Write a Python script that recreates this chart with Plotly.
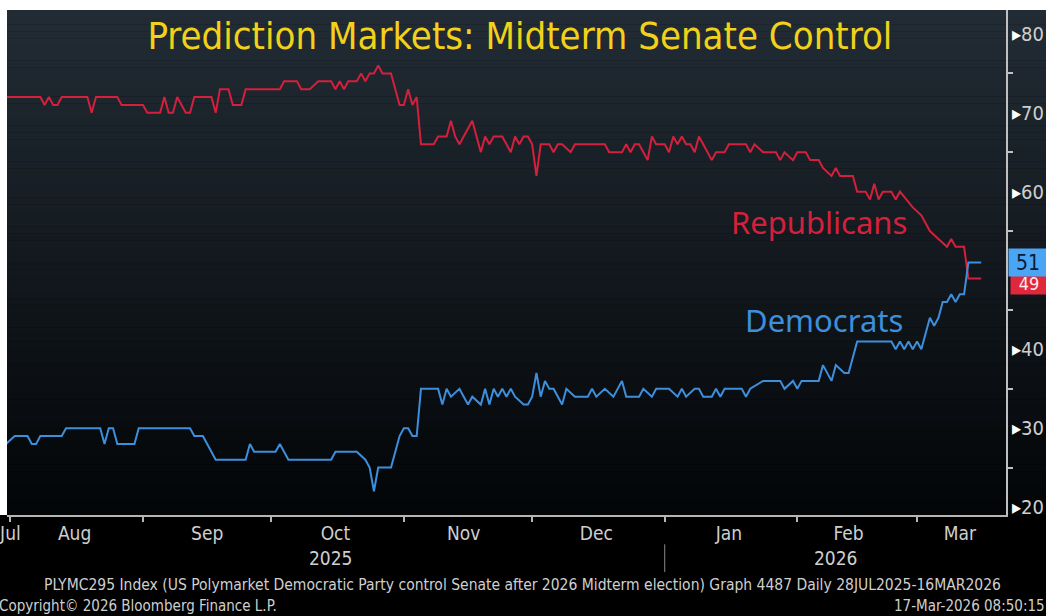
import pandas as pd
import plotly.graph_objects as go

# ---------------- data (days counted from 28 Jul 2025, values in %) ----------------
start_date = pd.Timestamp("2025-07-28")

rep_day = [0, 11, 12, 13, 14, 15, 16, 22, 23, 24, 29, 30, 35, 36, 39, 40, 41, 42, 43, 45, 46, 47, 51, 52, 53, 55,
           56, 58, 59, 67, 68, 71, 72, 74, 76, 79, 80, 81, 82, 83, 85, 86, 87, 88, 89, 90, 91, 93, 94, 95, 96, 97,
           98, 99, 100, 103, 104, 106, 107, 108, 109, 110, 111, 112, 113, 114, 115, 116, 117, 119, 120, 121, 122,
           123, 124, 125, 126, 127, 128, 130, 131, 132, 133, 135, 136, 143, 144, 147, 148, 149, 150, 151, 153, 154,
           155, 157, 158, 159, 160, 161, 162, 163, 164, 165, 166, 168, 169, 171, 172, 176, 177, 178, 180, 183, 184,
           185, 187, 188, 190, 191, 193, 194, 196, 197, 198, 201, 202, 204, 205, 206, 207, 208, 210, 211, 212, 215,
           217, 219, 221, 223, 224, 225, 227, 228, 231]
rep_val = [72, 72, 71, 72, 71, 71, 72, 72, 70, 72, 72, 71, 71, 70, 70, 72, 70, 70, 72, 70, 70, 72, 72, 70, 73, 73,
           71, 71, 73, 73, 74, 74, 73, 73, 74, 74, 73, 74, 73, 74, 74, 75, 74, 75, 75, 76, 75, 75, 73, 71, 71, 73,
           71, 72, 66, 66, 67, 67, 69, 67, 66, 67, 68, 69, 67, 65, 67, 66, 67, 67, 66, 65, 67,
           66, 67, 67, 66, 62, 66, 66, 65, 66, 66, 65, 66, 66, 65, 65, 66, 65, 66, 66, 64, 67,
           66, 66, 65, 67, 66, 67, 66, 66, 65, 67, 66, 64, 65, 65, 66, 66, 65, 66, 65, 65, 64,
           65, 64, 65, 65, 64, 64, 63, 62, 63, 62, 62, 60, 60, 59, 61, 59, 60, 60, 59, 60, 58,
           57, 55, 54, 53, 54, 53, 53, 49, 49]

dem_day = [0, 3, 5, 8, 9, 10, 11, 16, 17, 25, 26, 27, 28, 29, 33, 34, 46, 47, 49, 50, 51, 52, 59, 60, 61, 66, 67,
           69, 79, 80, 85, 87, 88, 89, 90, 93, 94, 95, 96, 97, 98, 99, 100, 104, 105, 106, 107, 109, 110, 111, 112,
           114, 115, 116, 117, 118, 119, 120, 121, 122, 124, 125, 126, 127, 128, 129, 130, 131, 133, 134, 136, 139,
           140, 141, 143, 145, 147, 148, 151, 152, 154, 155, 158, 160, 161, 162, 164, 165, 166, 168, 169, 170, 171,
           173, 175, 176, 177, 180, 184, 185, 187, 188, 189, 193, 194, 196, 197, 199, 200, 202, 210, 211, 212, 213,
           214, 215, 216, 217, 218, 219, 220, 221, 222, 223, 224, 225, 226, 227, 228, 231]
dem_val = [28, 28, 29, 29, 28, 28, 29, 29, 30, 30, 28, 30, 30, 28, 28, 30, 30, 29, 29, 28, 27, 26, 26, 28, 27, 27, 28,
           26, 26, 27, 27, 26, 25, 22, 25, 25, 27, 29, 30, 30, 29, 29, 35, 35, 33, 35, 34, 35, 34, 33, 34,
           33, 35, 33, 35, 34, 35, 34, 35, 34, 33, 33, 34, 37, 34, 36, 35, 35, 33, 35, 34, 34,
           35, 34, 35, 34, 36, 34, 34, 35, 34, 35, 35, 34, 35, 34, 35, 35, 34, 34, 35, 34, 35,
           35, 35, 34, 35, 36, 36, 35, 36, 35, 36, 36, 38, 36, 38, 37, 37, 41, 41, 40, 41, 40,
           41, 40, 41, 40, 42, 44, 43, 44, 46, 46, 47, 46, 47, 47, 51, 51]

month_labels = ["Jul", "Aug", "Sep", "Oct", "Nov", "Dec", "Jan", "Feb", "Mar"]
month_label_dates = ["2025-08-01", "2025-08-16", "2025-09-16", "2025-10-16", "2025-11-15",
                     "2025-12-16", "2026-01-16", "2026-02-13", "2026-03-11"]
month_starts = ["2025-08-01", "2025-09-01", "2025-10-01", "2025-11-01", "2025-12-01",
                "2026-01-01", "2026-02-01", "2026-03-01"]
year_labels = ["2025", "2026"]
year_label_dates = ["2025-10-15", "2026-02-10"]
year_break = "2026-01-01"
y_ticks = [20, 30, 40, 50, 60, 70, 80]

rep_dates = start_date + pd.to_timedelta(rep_day, unit="D")
dem_dates = start_date + pd.to_timedelta(dem_day, unit="D")

RED = "#d4203c"
BLUE = "#3d8fdc"
NARROW = "Liberation Sans Narrow, DejaVu Sans Condensed, Arial Narrow, sans-serif"
AXIS_TXT = "#cfcfcf"

fig = go.Figure()
fig.add_trace(go.Scatter(x=rep_dates, y=rep_val, mode="lines", name="Republicans",
                         line=dict(color=RED, width=2)))
fig.add_trace(go.Scatter(x=dem_dates, y=dem_val, mode="lines", name="Democrats",
                         line=dict(color=BLUE, width=2)))

# ---------------- background gradient / frame ----------------
shapes = []
n = 70
top = (34, 44, 53)
bot = (3, 5, 7)
for i in range(n):
    t = i / (n - 1)
    c = tuple(round(top[k] + (bot[k] - top[k]) * t) for k in range(3))
    shapes.append(dict(type="rect", xref="paper", yref="paper", x0=0, x1=1.041,
                       y0=1 - (i + 1) / n, y1=1 - i / n + 0.0005,
                       fillcolor="rgb(%d,%d,%d)" % c, line_width=0, layer="below"))
# white margins at top and left of the screenshot
shapes.append(dict(type="rect", xref="paper", yref="paper", x0=-0.01, x1=1.05, y0=1, y1=1.03,
                   fillcolor="white", line_width=0, layer="below"))
shapes.append(dict(type="rect", xref="paper", yref="paper", x0=-0.01, x1=0, y0=0, y1=1.03,
                   fillcolor="white", line_width=0, layer="below"))
# year separator
shapes.append(dict(type="line", xref="x", yref="paper", x0=year_break, x1=year_break,
                   y0=-0.058, y1=-0.113, line=dict(color="#8a8a8a", width=1)))

LABEL_FONT = "Noto Sans, Open Sans, sans-serif"
annotations = []
annotations.append(dict(text="Republicans", xref="paper", yref="paper", x=0.8128, y=0.58,
                        xanchor="center", yanchor="middle", showarrow=False,
                        font=dict(family=LABEL_FONT, size=31, color=RED)))
annotations.append(dict(text="Democrats", xref="paper", yref="paper", x=0.8178, y=0.386,
                        xanchor="center", yanchor="middle", showarrow=False,
                        font=dict(family=LABEL_FONT, size=31, color=BLUE)))
for lab, d in zip(year_labels, year_label_dates):
    annotations.append(dict(text=lab, xref="x", yref="paper", x=d, y=-0.085, xanchor="center",
                            yanchor="middle", showarrow=False,
                            font=dict(family=NARROW, size=19, color=AXIS_TXT)))
annotations.append(dict(
    text="PLYMC295 Index (US Polymarket Democratic Party control Senate after 2026 Midterm election) "
         "Graph 4487 Daily 28JUL2025-16MAR2026",
    xref="paper", yref="paper", x=0.5165, y=-0.1386, xanchor="center", yanchor="middle",
    showarrow=False, font=dict(family=NARROW, size=15.5, color=AXIS_TXT)))
annotations.append(dict(text="Copyright\u00a9 2026 Bloomberg Finance L.P.", xref="paper", yref="paper",
                        x=-0.010, y=-0.18, xanchor="left", yanchor="middle", showarrow=False,
                        font=dict(family=NARROW, size=15, color=AXIS_TXT)))
annotations.append(dict(text="17-Mar-2026 08:50:15", xref="paper", yref="paper",
                        x=1.041, y=-0.18, xanchor="right", yanchor="middle", showarrow=False,
                        font=dict(family=NARROW, size=15, color=AXIS_TXT)))
# last value labels
annotations.append(dict(text="%d" % rep_val[-1], xref="paper", yref="y", x=1.004, y=rep_val[-1] - 0.6,
                        xanchor="left", yanchor="middle", showarrow=False, width=34, height=20,
                        bgcolor="#e0283c", font=dict(family=NARROW, size=18, color="#ffe6ea")))
annotations.append(dict(text="%d" % dem_val[-1], xref="paper", yref="y", x=1.002, y=dem_val[-1],
                        xanchor="left", yanchor="middle", showarrow=False, width=36, height=25,
                        bgcolor="#4aa6f5", font=dict(family=NARROW, size=21, color="#0b1a30")))

fig.update_layout(
    width=1046, height=616,
    margin=dict(l=7, r=40, t=10, b=101, autoexpand=False),
    paper_bgcolor="#000000",
    plot_bgcolor="rgba(0,0,0,0)",
    showlegend=False,
    title=dict(text="Prediction Markets: Midterm Senate Control", xref="container", yref="container",
               x=0.497, y=0.942, xanchor="center", yanchor="middle",
               font=dict(family=NARROW, size=38, color="#f2d11a")),
    shapes=shapes,
    annotations=annotations,
    xaxis=dict(type="date", automargin=False,
               range=[start_date + pd.Timedelta(days=3.2), start_date + pd.Timedelta(days=236.8)],
               showgrid=False, zeroline=False, showline=True, linecolor="#b5b5b5", linewidth=2,
               tickmode="array", tickvals=month_label_dates, ticktext=month_labels, ticks="",
               ticklabeloverflow="allow",
               tickfont=dict(family=NARROW, size=19, color=AXIS_TXT),
               minor=dict(tickmode="array", tickvals=month_starts, ticks="outside", ticklen=5,
                          tickwidth=1.5, tickcolor="#b5b5b5", showgrid=False)),
    yaxis=dict(side="right", automargin=False, range=[18.99, 83.04], showgrid=False, zeroline=False,
               showline=True, linecolor="#c0c0c0", linewidth=2,
               tickmode="array", tickvals=y_ticks,
               ticktext=['<span style="color:#ffffff">\u25b8</span>%d' % v for v in y_ticks],
               ticks="", ticklabeloverflow="allow",
               tickfont=dict(family=NARROW, size=20, color=AXIS_TXT),
               minor=dict(tickmode="array", tickvals=[25, 35, 45, 55, 65, 75], ticks="outside",
                          ticklen=5, tickwidth=1.5, tickcolor="#c0c0c0", showgrid=False)),
)

fig.write_html("out.html", config={"displayModeBar": False},
               post_script="document.body.style.margin='0px';")
